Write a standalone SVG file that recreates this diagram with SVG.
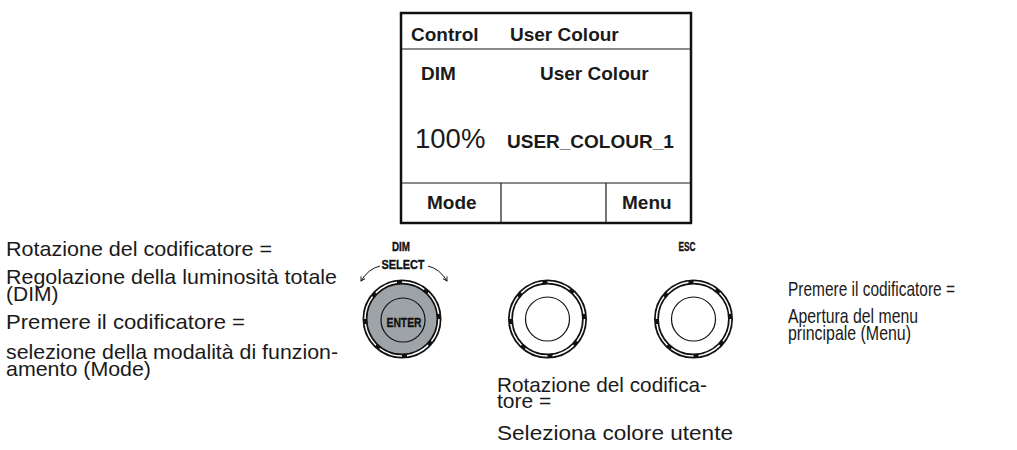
<svg xmlns="http://www.w3.org/2000/svg" width="1017" height="450" viewBox="0 0 1017 450">
<style>
.t{font-family:"Liberation Sans",Arial,sans-serif;font-size:21px;fill:#1a1a1a}
.b{font-family:"Liberation Sans",Arial,sans-serif;font-weight:bold;font-size:19px;fill:#1a1a1a}
.r{font-family:"Liberation Sans",Arial,sans-serif;font-size:27.5px;fill:#1a1a1a}
.k{font-family:"Liberation Sans",Arial,sans-serif;font-weight:bold;font-size:13.5px;fill:#111;stroke:#111;stroke-width:0.4}
.ln{stroke:#1a1a1a;stroke-width:1.2;fill:none}
.ring{fill:none;stroke:#111;stroke-width:5}
.dash{fill:none;stroke:#fff;stroke-width:1.5;stroke-dasharray:24 5}
.inner{stroke:#111;stroke-width:1.2}
</style>
<defs>
<marker id="ah" viewBox="0 0 10 10" refX="8" refY="5" markerWidth="6" markerHeight="6" orient="auto">
<path d="M1,1 L8,5 L1,9" fill="none" stroke="#111" stroke-width="1.5"/>
</marker>
</defs>
<g id="display">
<rect x="401" y="13" width="290" height="210" fill="#fff" stroke="#111" stroke-width="2.5"/>
<line class="ln" x1="401" y1="49" x2="691" y2="49"/>
<line class="ln" x1="401" y1="183" x2="691" y2="183"/>
<line class="ln" x1="501" y1="183" x2="501" y2="223"/>
<line class="ln" x1="606" y1="183" x2="606" y2="223"/>
<text class="b" x="411" y="41">Control</text>
<text class="b" x="510" y="41">User Colour</text>
<text class="b" x="421" y="80">DIM</text>
<text class="b" x="540" y="80">User Colour</text>
<text class="r" x="415" y="148">100%</text>
<text class="b" x="507" y="148">USER_COLOUR_1</text>
<text class="b" x="427" y="209">Mode</text>
<text class="b" x="622" y="209">Menu</text>
</g>
<g id="knob-enter">
<circle cx="402" cy="319" r="37" fill="#9ea3a8"/>
<circle class="ring" cx="402" cy="319" r="37"/>
<circle class="dash" cx="402" cy="319" r="37"/>
<circle cx="403" cy="320" r="22" fill="#9ea3a8" class="inner"/>
<text class="k" x="404" y="326.5" text-anchor="middle" font-size="17" textLength="35" lengthAdjust="spacingAndGlyphs">ENTER</text>
<text class="k" x="401" y="251" text-anchor="middle" textLength="18" lengthAdjust="spacingAndGlyphs">DIM</text>
<text class="k" x="403" y="269" text-anchor="middle" textLength="43" lengthAdjust="spacingAndGlyphs">SELECT</text>
</g>
<g id="knob-2">
<circle class="ring" cx="547.5" cy="319" r="37"/>
<circle class="dash" cx="547.5" cy="319" r="37"/>
<circle cx="547.5" cy="319" r="22" fill="none" class="inner"/>
</g>
<g id="knob-esc">
<circle class="ring" cx="693.5" cy="319" r="37"/>
<circle class="dash" cx="693.5" cy="319" r="37"/>
<circle cx="693.5" cy="319" r="22" fill="none" class="inner"/>
<text class="k" x="687" y="251" text-anchor="middle" textLength="17" lengthAdjust="spacingAndGlyphs">ESC</text>
</g>
<g id="connectors">
<path d="M380,266 Q368,269 361,281" fill="none" stroke="#111" stroke-width="1" marker-end="url(#ah)"/>
<path d="M428,266 Q440,269 447,281" fill="none" stroke="#111" stroke-width="1" marker-end="url(#ah)"/>
</g>
<g id="label-left">
<text class="t" x="6" y="256" textLength="266" lengthAdjust="spacingAndGlyphs">Rotazione del codificatore =</text>
<text class="t" x="6" y="284" textLength="331" lengthAdjust="spacingAndGlyphs">Regolazione della luminosità totale</text>
<text class="t" x="6" y="301">(DIM)</text>
<text class="t" x="6" y="329" textLength="239" lengthAdjust="spacingAndGlyphs">Premere il codificatore =</text>
<text class="t" x="6" y="359" textLength="332" lengthAdjust="spacingAndGlyphs">selezione della modalità di funzion-</text>
<text class="t" x="6" y="376" textLength="145" lengthAdjust="spacingAndGlyphs">amento (Mode)</text>
</g>
<g id="label-right">
<text class="t" x="788" y="296" textLength="167" lengthAdjust="spacingAndGlyphs">Premere il codificatore =</text>
<text class="t" x="788" y="323" textLength="130" lengthAdjust="spacingAndGlyphs">Apertura del menu</text>
<text class="t" x="788" y="340" textLength="123" lengthAdjust="spacingAndGlyphs">principale (Menu)</text>
</g>
<g id="label-bottom">
<text class="t" x="497" y="392" textLength="210" lengthAdjust="spacingAndGlyphs">Rotazione del codifica-</text>
<text class="t" x="497" y="408">tore =</text>
<text class="t" x="497" y="440" textLength="236" lengthAdjust="spacingAndGlyphs">Seleziona colore utente</text>
</g>
</svg>
